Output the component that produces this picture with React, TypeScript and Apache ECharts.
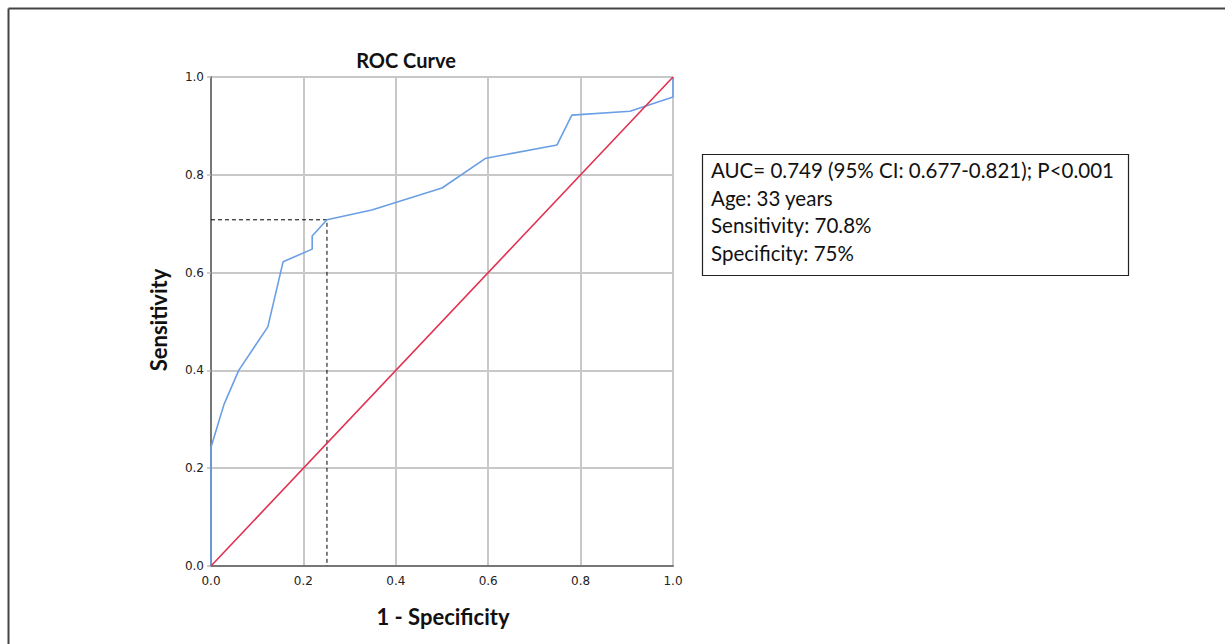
import { useEffect, useRef } from "react";
import * as echarts from "echarts";

// ROC curve points (1 - specificity, sensitivity)
const fpr = [0, 0, 0.028, 0.06, 0.123, 0.156, 0.219, 0.219, 0.251, 0.348, 0.5, 0.595, 0.749, 0.781, 0.907, 1.0, 1.0];
const tpr = [0, 0.243, 0.33, 0.4, 0.489, 0.622, 0.648, 0.675, 0.708, 0.728, 0.773, 0.834, 0.861, 0.922, 0.93, 0.959, 1.0];
// Reference (chance) line
const refX = [0, 1];
const refY = [0, 1];
// Cut-off point
const cutoffX = 0.251;
const cutoffY = 0.708;
const tickInterval = 0.2;

const titleText = "ROC Curve";
const xName = "1 - Specificity";
const yName = "Sensitivity";
const boxLines = [
  "AUC= 0.749 (95% CI: 0.677-0.821); P<0.001",
  "Age: 33 years",
  "Sensitivity: 70.8%",
  "Specificity: 75%",
];

export default function App() {
  const ref = useRef<HTMLDivElement>(null);
  useEffect(() => {
    if (!ref.current) return;
    const chart = echarts.init(ref.current, null, { renderer: "svg" });
    const rocData = fpr.map((x, i) => [x, tpr[i]]);
    const diag = refX.map((x, i) => [x, refY[i]]);
    const dashData = [
      [0, cutoffY],
      [cutoffX, cutoffY],
      [cutoffX, 0],
    ];
    const txtFont = "Lato, 'Open Sans', sans-serif";
    chart.setOption({
      animation: false,
      backgroundColor: "#ffffff",
      grid: { left: 211, top: 77, width: 462, height: 489, containLabel: false },
      xAxis: {
        type: "value",
        min: 0,
        max: 1,
        interval: tickInterval,
        axisLine: { show: true, onZero: false, lineStyle: { color: "#777", width: 2 } },
        axisTick: { show: false },
        splitLine: { show: true, lineStyle: { color: "#c8c8c8", width: 2 } },
        axisLabel: {
          margin: 9,
          color: "#222",
          fontSize: 12,
          fontFamily: "DejaVu Sans",
          formatter: (v: number) => v.toFixed(1),
        },
      },
      yAxis: {
        type: "value",
        min: 0,
        max: 1,
        interval: tickInterval,
        axisLine: { show: true, onZero: false, lineStyle: { color: "#777", width: 2 } },
        axisTick: { show: true, length: 4, lineStyle: { color: "#bbb", width: 1.5 } },
        splitLine: { show: true, lineStyle: { color: "#c8c8c8", width: 2 } },
        axisLabel: {
          margin: 7,
          color: "#222",
          fontSize: 12,
          fontFamily: "DejaVu Sans",
          formatter: (v: number) => v.toFixed(1),
        },
      },
      series: [
        {
          type: "line",
          data: dashData,
          symbol: "none",
          lineStyle: { color: "#000", width: 1, type: [4, 3] },
          z: 3,
        },
        {
          type: "line",
          data: rocData,
          symbol: "none",
          lineStyle: { color: "#6a9fe6", width: 1.6 },
          z: 4,
        },
        {
          type: "line",
          data: diag,
          symbol: "none",
          lineStyle: { color: "#e2304f", width: 1.6 },
          z: 5,
        },
      ],
      graphic: [
        {
          type: "line",
          shape: { x1: 8.5, y1: 8.5, x2: 1225, y2: 8.5 },
          style: { stroke: "#444", lineWidth: 2 },
        },
        {
          type: "line",
          shape: { x1: 8.5, y1: 8.5, x2: 8.5, y2: 644 },
          style: { stroke: "#444", lineWidth: 2 },
        },
        {
          type: "text",
          x: 406,
          y: 60,
          style: {
            text: titleText,
            fontFamily: txtFont,
            fontWeight: "bold",
            fontSize: 20,
            fill: "#111",
            align: "center",
            verticalAlign: "middle",
          },
        },
        {
          type: "text",
          x: 443,
          y: 616,
          style: {
            text: xName,
            fontFamily: txtFont,
            fontWeight: "bold",
            fontSize: 22,
            fill: "#111",
            align: "center",
            verticalAlign: "middle",
          },
        },
        {
          type: "text",
          x: 158,
          y: 320,
          rotation: Math.PI / 2,
          style: {
            text: yName,
            fontFamily: txtFont,
            fontWeight: "bold",
            fontSize: 22,
            fill: "#111",
            align: "center",
            verticalAlign: "middle",
          },
        },
        {
          type: "rect",
          shape: { x: 702.5, y: 154.5, width: 426, height: 121 },
          style: { fill: "#fff", stroke: "#222", lineWidth: 1.2 },
        },
        ...boxLines.map((t, i) => ({
          type: "text",
          x: 711,
          y: 170 + i * 27.5,
          style: {
            text: t,
            fontFamily: txtFont,
            fontSize: 20.5,
            fill: "#111",
            align: "left",
            verticalAlign: "middle",
          },
        })),
      ],
    });
    return () => chart.dispose();
  }, []);
  return (
    <div
      ref={ref}
      style={{ position: "absolute", left: 0, top: 0, width: 1225, height: 644 }}
    />
  );
}
